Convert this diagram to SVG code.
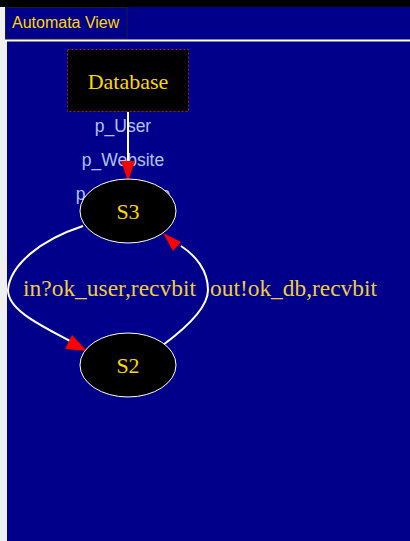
<svg xmlns="http://www.w3.org/2000/svg" width="410" height="541" viewBox="0 0 410 541">
<defs>
<style>
.serif{font-family:"Liberation Serif","Times New Roman",serif;font-size:22px;fill:#FFD700}
.elbl{font-family:"Liberation Serif","Times New Roman",serif;font-size:23px;fill:#F0CC40}
.lbl{font-family:"Liberation Sans",Arial,sans-serif;font-size:17.5px;fill:#B0C4EE}
.edge{fill:none;stroke:#FFFFFF;stroke-width:2}
.head{fill:#FF0000}
.state{fill:#000000;stroke:#FFFFFF;stroke-width:1}
</style>
</defs>
<rect x="0" y="0" width="410" height="541" fill="#F0F0F0"/>
<rect x="0" y="0" width="410" height="7" fill="#000000"/>
<rect x="5" y="7" width="405" height="33" fill="#00008B"/>
<rect x="5.5" y="7.5" width="121.5" height="31.5" fill="#00008B" stroke="#1A1A40" stroke-width="1"/>
<text x="12" y="28" font-family="Liberation Sans, Arial, sans-serif" font-size="16" fill="#FFD700">Automata View</text>
<rect x="5" y="39.5" width="405" height="2" fill="#FFFFFF"/>
<rect x="7" y="41.5" width="403" height="500" fill="#00008B"/>

<g id="labels-db">
<text class="lbl" x="123" y="132" text-anchor="middle">p_User</text>
<text class="lbl" x="123" y="166" text-anchor="middle">p_Website</text>
<text class="lbl" x="123" y="200" text-anchor="middle">p_Database</text>
</g>

<g id="connectors">
<line class="edge" x1="128" y1="112" x2="128" y2="166"/>
<polygon class="head" points="128,181 121,161 135,161"/>
<path class="edge" d="M83,226 C40,240 10,265 8,290 C8,310 40,325 70,341"/>
<polygon class="head" points="87,351 65,349 72,335"/>
<path class="edge" d="M163,345 C190,325 208,305 208,290 C208,270 195,255 181,246"/>
<polygon class="head" points="163,233 181,242 173,251"/>
<text class="elbl" x="23" y="296" textLength="173" lengthAdjust="spacingAndGlyphs">in?ok_user,recvbit</text>
<text class="elbl" x="210" y="296" textLength="167" lengthAdjust="spacingAndGlyphs">out!ok_db,recvbit</text>
</g>

<g id="Database">
<rect x="67.5" y="49.5" width="121" height="62" fill="#000000" stroke="#A01850" stroke-width="1" stroke-dasharray="2,2"/>
<text class="serif" x="128" y="89" text-anchor="middle">Database</text>
</g>

<g id="S3">
<ellipse class="state" cx="128" cy="211" rx="48" ry="32"/>
<text class="serif" x="128" y="219" text-anchor="middle">S3</text>
</g>

<g id="S2">
<ellipse class="state" cx="128" cy="365" rx="48" ry="32"/>
<text class="serif" x="128" y="373" text-anchor="middle">S2</text>
</g>
</svg>
